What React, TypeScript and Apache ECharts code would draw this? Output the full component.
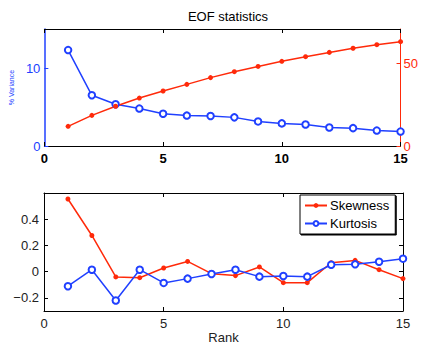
import React, { useEffect, useRef } from "react";
import * as echarts from "echarts";

const ranks = [1, 2, 3, 4, 5, 6, 7, 8, 9, 10, 11, 12, 13, 14, 15];
const variance = [12.3, 6.5, 5.35, 4.8, 4.14, 3.9, 3.85, 3.67, 3.15, 2.9, 2.76, 2.37, 2.29, 1.98, 1.85];
const cumulative = [11.95, 18.6, 24.1, 29.1, 33.4, 37.4, 41.5, 45.1, 48.3, 51.4, 54.2, 56.8, 59.3, 61.5, 63.3];
const skewness = [0.554, 0.276, -0.04, -0.046, 0.028, 0.078, -0.015, -0.03, 0.036, -0.084, -0.084, 0.068, 0.086, 0.015, -0.053];
const kurtosis = [-0.111, 0.015, -0.22, 0.015, -0.086, -0.053, -0.018, 0.015, -0.038, -0.033, -0.038, 0.053, 0.056, 0.076, 0.099];
const bottomTicks = [-0.2, 0, 0.2, 0.4];

const RED = "#ff2a0a";
const BLUE = "#2040ff";
const FONT = "Liberation Sans";

export default function App() {
  const ref = useRef<HTMLDivElement>(null);
  useEffect(() => {
    if (!ref.current) return;
    const chart = echarts.init(ref.current, null, { renderer: "svg" });
    const pair = (ys: number[]) => ranks.map((r, i) => [r, ys[i]]);
    const blackLine = { show: true, onZero: false, lineStyle: { color: "#000", width: 1 } };
    chart.setOption({
      animation: false,
      backgroundColor: "#fff",
      textStyle: { fontFamily: FONT },
      title: {
        text: "EOF statistics",
        left: 223,
        textAlign: "center",
        top: 5,
        textStyle: { fontSize: 13, fontWeight: "normal", color: "#000", fontFamily: FONT },
      },
      grid: [
        { left: 44, right: 19, top: 29, height: 117 },
        { left: 44, right: 18, top: 193, height: 118 },
      ],
      legend: {
        data: ["Skewness", "Kurtosis"],
        orient: "vertical",
        left: 300,
        top: 195,
        itemWidth: 22,
        itemHeight: 6,
        itemGap: 5,
        padding: [4, 6, 4, 4],
        backgroundColor: "#fff",
        borderColor: "#000",
        borderWidth: 1,
        borderRadius: 0,
        shadowColor: "#000",
        shadowBlur: 0,
        shadowOffsetX: 1,
        shadowOffsetY: 1,
        textStyle: { fontSize: 13, color: "#000", fontFamily: FONT, padding: [0, 0, 0, -2] },
      },
      xAxis: [
        {
          gridIndex: 0, type: "value", min: 0, max: 15, interval: 5, position: "bottom",
          axisLine: blackLine, splitLine: { show: false },
          axisTick: { inside: true, length: 4, lineStyle: { color: "#000" } },
          axisLabel: { fontSize: 13, fontWeight: "bold", color: "#000", margin: 6, fontFamily: FONT },
        },
        {
          gridIndex: 0, type: "value", min: 0, max: 15, interval: 5, position: "top",
          axisLine: blackLine, splitLine: { show: false },
          axisTick: { inside: true, length: 4, lineStyle: { color: "#000" } },
          axisLabel: { show: false },
        },
        {
          gridIndex: 1, type: "value", min: 0, max: 15, interval: 5, position: "bottom",
          axisLine: blackLine, splitLine: { show: false },
          axisTick: { inside: true, length: 4, lineStyle: { color: "#000" } },
          axisLabel: { fontSize: 13, color: "#222", margin: 6, fontFamily: FONT },
          name: "Rank", nameLocation: "middle", nameGap: 20,
          nameTextStyle: { fontSize: 13, color: "#222", fontFamily: FONT },
        },
        {
          gridIndex: 1, type: "value", min: 0, max: 15, interval: 5, position: "top",
          axisLine: blackLine, splitLine: { show: false },
          axisTick: { inside: true, length: 4, lineStyle: { color: "#000" } },
          axisLabel: { show: false },
        },
      ],
      yAxis: [
        {
          gridIndex: 0, type: "value", min: 0, max: 15, interval: 10, position: "left",
          axisLine: { show: true, onZero: false, lineStyle: { color: BLUE, width: 1.5 } },
          splitLine: { show: false },
          axisTick: { inside: true, length: 4, lineStyle: { color: BLUE } },
          axisLabel: { fontSize: 13, color: BLUE, margin: 4, showMaxLabel: false, fontFamily: FONT },
          name: "% Variance", nameLocation: "middle", nameRotate: 90, nameGap: 27,
          nameTextStyle: { fontSize: 7, color: BLUE, fontFamily: FONT },
        },
        {
          gridIndex: 0, type: "value", min: 0, max: 71, interval: 50, position: "right",
          axisLine: { show: true, onZero: false, lineStyle: { color: RED, width: 1 } },
          splitLine: { show: false },
          axisTick: { inside: true, length: 4, lineStyle: { color: RED } },
          axisLabel: { fontSize: 13, color: RED, margin: 3, showMaxLabel: false, fontFamily: FONT, padding: [0, 0, 4, 0] },
        },
        {
          gridIndex: 1, type: "value", min: -0.3, max: 0.6, position: "left",
          axisLine: blackLine, splitLine: { show: false },
          axisTick: { inside: true, length: 4, lineStyle: { color: "#000" }, customValues: bottomTicks },
          axisLabel: {
            fontSize: 13, color: "#222", margin: 5, fontFamily: FONT,
            customValues: bottomTicks,
            formatter: (v: number) => (Math.abs(v) < 1e-9 ? "0" : String(Math.round(v * 10) / 10).replace("-", "\u2212")),
          },
        },
        {
          gridIndex: 1, type: "value", min: -0.3, max: 0.6, position: "right",
          axisLine: blackLine, splitLine: { show: false },
          axisTick: { inside: true, length: 4, lineStyle: { color: "#000" }, customValues: bottomTicks },
          axisLabel: { show: false, customValues: bottomTicks },
        },
      ],
      series: [
        {
          name: "% Variance", type: "line", xAxisIndex: 0, yAxisIndex: 0,
          data: pair(variance), symbol: "emptyCircle", symbolSize: 6.5,
          lineStyle: { color: BLUE, width: 1.5 },
          itemStyle: { color: BLUE, borderWidth: 1.5 },
        },
        {
          name: "Cumulative", type: "line", xAxisIndex: 0, yAxisIndex: 1,
          data: pair(cumulative), symbol: "circle", symbolSize: 5,
          lineStyle: { color: RED, width: 1.5 },
          itemStyle: { color: RED },
        },
        {
          name: "Skewness", type: "line", xAxisIndex: 2, yAxisIndex: 2,
          data: pair(skewness), symbol: "circle", symbolSize: 5,
          lineStyle: { color: RED, width: 1.5 },
          itemStyle: { color: RED },
        },
        {
          name: "Kurtosis", type: "line", xAxisIndex: 2, yAxisIndex: 2,
          data: pair(kurtosis), symbol: "emptyCircle", symbolSize: 6.5,
          lineStyle: { color: BLUE, width: 1.5 },
          itemStyle: { color: BLUE, borderWidth: 1.5 },
        },
      ],
    });
    return () => chart.dispose();
  }, []);
  return <div ref={ref} style={{ width: 421, height: 345, position: "absolute", left: 0, top: 0 }} />;
}
